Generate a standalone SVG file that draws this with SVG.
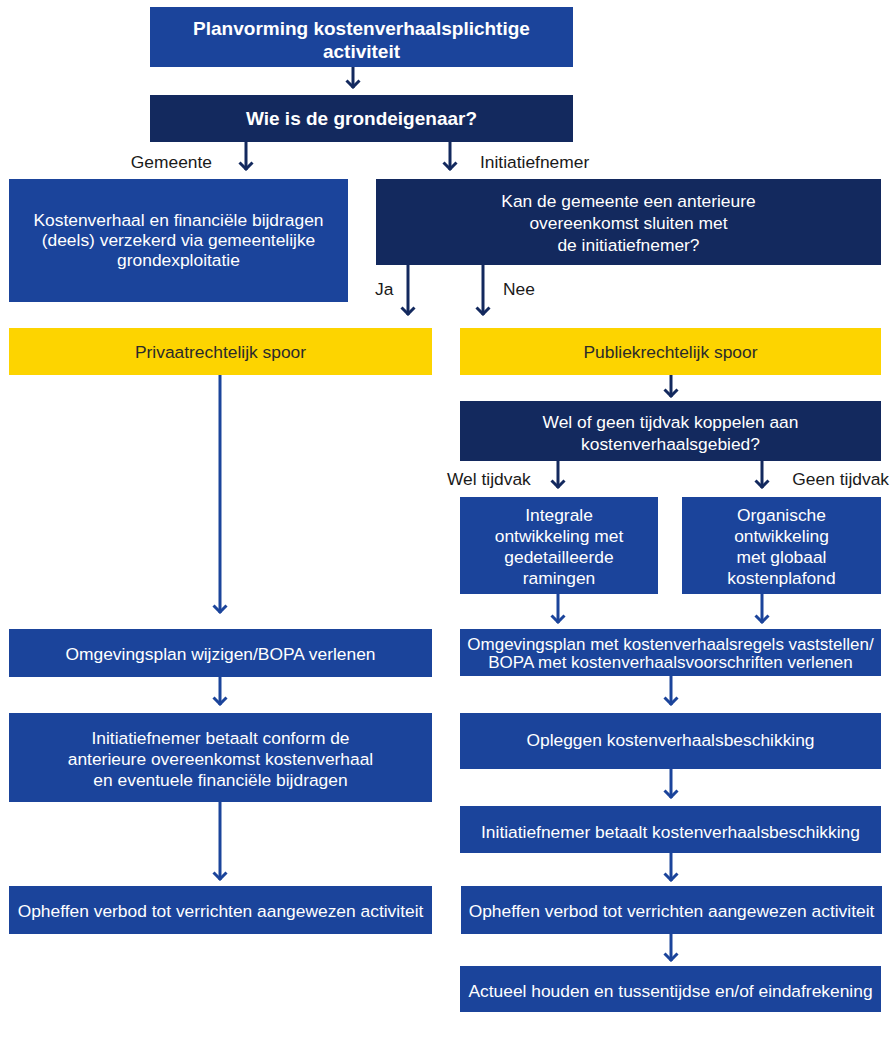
<svg xmlns="http://www.w3.org/2000/svg" width="890" height="1037" viewBox="0 0 890 1037">
<style>
.b{fill:#1b449b}
.d{fill:#13295e}
.y{fill:#fdd400}
.t{font-family:"Liberation Sans",Arial,sans-serif;font-size:17.4px;fill:#fff;text-anchor:middle}
.ts{font-size:17px}
.tb{font-family:"Liberation Sans",Arial,sans-serif;font-size:19px;font-weight:bold;fill:#fff;text-anchor:middle}
.ty{font-family:"Liberation Sans",Arial,sans-serif;font-size:17.4px;fill:#2b2b2b;text-anchor:middle}
.l{font-family:"Liberation Sans",Arial,sans-serif;font-size:17.4px;fill:#1a1a1a}
.an{stroke:#13295e;stroke-width:3;fill:none}
.ab{stroke:#1b449b;stroke-width:3;fill:none}
</style>
<defs>
<marker id="mn" viewBox="0 0 10 16" refX="9" refY="8" markerWidth="10" markerHeight="16" markerUnits="userSpaceOnUse" orient="auto">
<path d="M1.5,1.5 L8,8 L1.5,14.5" fill="none" stroke="#13295e" stroke-width="3"/>
</marker>
<marker id="mb" viewBox="0 0 10 16" refX="9" refY="8" markerWidth="10" markerHeight="16" markerUnits="userSpaceOnUse" orient="auto">
<path d="M1.5,1.5 L8,8 L1.5,14.5" fill="none" stroke="#1b449b" stroke-width="3"/>
</marker>
</defs>
<g id="connectors">
<path class="an" d="M353,67 V88" marker-end="url(#mn)"/>
<path class="an" d="M246,141 V170" marker-end="url(#mn)"/>
<path class="an" d="M450,141 V170" marker-end="url(#mn)"/>
<path class="an" d="M408,265 V315" marker-end="url(#mn)"/>
<path class="an" d="M483,265 V315" marker-end="url(#mn)"/>
<path class="an" d="M671,375 V397" marker-end="url(#mn)"/>
<path class="an" d="M558,461 V488" marker-end="url(#mn)"/>
<path class="an" d="M762,461 V488" marker-end="url(#mn)"/>
<path class="ab" d="M558,594 V623" marker-end="url(#mb)"/>
<path class="ab" d="M762,594 V623" marker-end="url(#mb)"/>
<path class="ab" d="M671,676 V705" marker-end="url(#mb)"/>
<path class="ab" d="M671,769 V798" marker-end="url(#mb)"/>
<path class="ab" d="M671,852 V881" marker-end="url(#mb)"/>
<path class="ab" d="M671,934 V961" marker-end="url(#mb)"/>
<path class="ab" d="M220,375 V613" marker-end="url(#mb)"/>
<path class="ab" d="M220,677 V705" marker-end="url(#mb)"/>
<path class="ab" d="M220,802 V880" marker-end="url(#mb)"/>
<text class="l" x="212" y="168" text-anchor="end">Gemeente</text>
<text class="l" x="480" y="168">Initiatiefnemer</text>
<text class="l" x="375" y="295">Ja</text>
<text class="l" x="503" y="295">Nee</text>
<text class="l" x="447" y="485">Wel tijdvak</text>
<text class="l" x="889" y="485" text-anchor="end">Geen tijdvak</text>
</g>
<g id="n1"><rect class="b" x="150" y="7" width="423" height="60"/>
<text class="tb" x="361.5" y="35">Planvorming kostenverhaalsplichtige</text>
<text class="tb" x="361.5" y="58">activiteit</text></g>
<g id="n2"><rect class="d" x="150" y="95" width="423" height="47"/>
<text class="tb" x="361.5" y="125">Wie is de grondeigenaar?</text></g>
<g id="n3"><rect class="b" x="9" y="179" width="339" height="123"/>
<text class="t" x="178.5" y="226">Kostenverhaal en financiële bijdragen</text>
<text class="t" x="178.5" y="246">(deels) verzekerd via gemeentelijke</text>
<text class="t" x="178.5" y="266">grondexploitatie</text></g>
<g id="n4"><rect class="d" x="376" y="179" width="505" height="86"/>
<text class="t" x="628.5" y="207">Kan de gemeente een anterieure</text>
<text class="t" x="628.5" y="229">overeenkomst sluiten met</text>
<text class="t" x="628.5" y="251">de initiatiefnemer?</text></g>
<g id="n5"><rect class="y" x="9" y="328" width="423" height="47"/>
<text class="ty" x="220.5" y="358">Privaatrechtelijk spoor</text></g>
<g id="n6"><rect class="y" x="460" y="328" width="421" height="47"/>
<text class="ty" x="670.5" y="358">Publiekrechtelijk spoor</text></g>
<g id="n7"><rect class="d" x="460" y="401" width="421" height="60"/>
<text class="t" x="670.5" y="428">Wel of geen tijdvak koppelen aan</text>
<text class="t" x="670.5" y="450">kostenverhaalsgebied?</text></g>
<g id="n8"><rect class="b" x="460" y="497" width="198" height="97"/>
<text class="t" x="559" y="521">Integrale</text>
<text class="t" x="559" y="542">ontwikkeling met</text>
<text class="t" x="559" y="563">gedetailleerde</text>
<text class="t" x="559" y="584">ramingen</text></g>
<g id="n9"><rect class="b" x="682" y="497" width="199" height="97"/>
<text class="t" x="781.5" y="521">Organische</text>
<text class="t" x="781.5" y="542">ontwikkeling</text>
<text class="t" x="781.5" y="563">met globaal</text>
<text class="t" x="781.5" y="584">kostenplafond</text></g>
<g id="n10"><rect class="b" x="460" y="629" width="421" height="47"/>
<text class="t ts" x="670.5" y="650">Omgevingsplan met kostenverhaalsregels vaststellen/</text>
<text class="t ts" x="670.5" y="668">BOPA met kostenverhaalsvoorschriften verlenen</text></g>
<g id="n11"><rect class="b" x="460" y="713" width="421" height="56"/>
<text class="t" x="670.5" y="746">Opleggen kostenverhaalsbeschikking</text></g>
<g id="n12"><rect class="b" x="460" y="806" width="421" height="47"/>
<text class="t" x="670.5" y="838">Initiatiefnemer betaalt kostenverhaalsbeschikking</text></g>
<g id="n13"><rect class="b" x="461" y="886" width="421" height="48"/>
<text class="t" x="671.5" y="917">Opheffen verbod tot verrichten aangewezen activiteit</text></g>
<g id="n14"><rect class="b" x="460" y="966" width="421" height="46"/>
<text class="t" x="670.5" y="997">Actueel houden en tussentijdse en/of eindafrekening</text></g>
<g id="n15"><rect class="b" x="9" y="629" width="423" height="48"/>
<text class="t" x="220.5" y="660">Omgevingsplan wijzigen/BOPA verlenen</text></g>
<g id="n16"><rect class="b" x="9" y="713" width="423" height="89"/>
<text class="t" x="220.5" y="744">Initiatiefnemer betaalt conform de</text>
<text class="t" x="220.5" y="765">anterieure overeenkomst kostenverhaal</text>
<text class="t" x="220.5" y="786">en eventuele financiële bijdragen</text></g>
<g id="n17"><rect class="b" x="9" y="886" width="423" height="48"/>
<text class="t" x="220.5" y="917">Opheffen verbod tot verrichten aangewezen activiteit</text></g>
</svg>
